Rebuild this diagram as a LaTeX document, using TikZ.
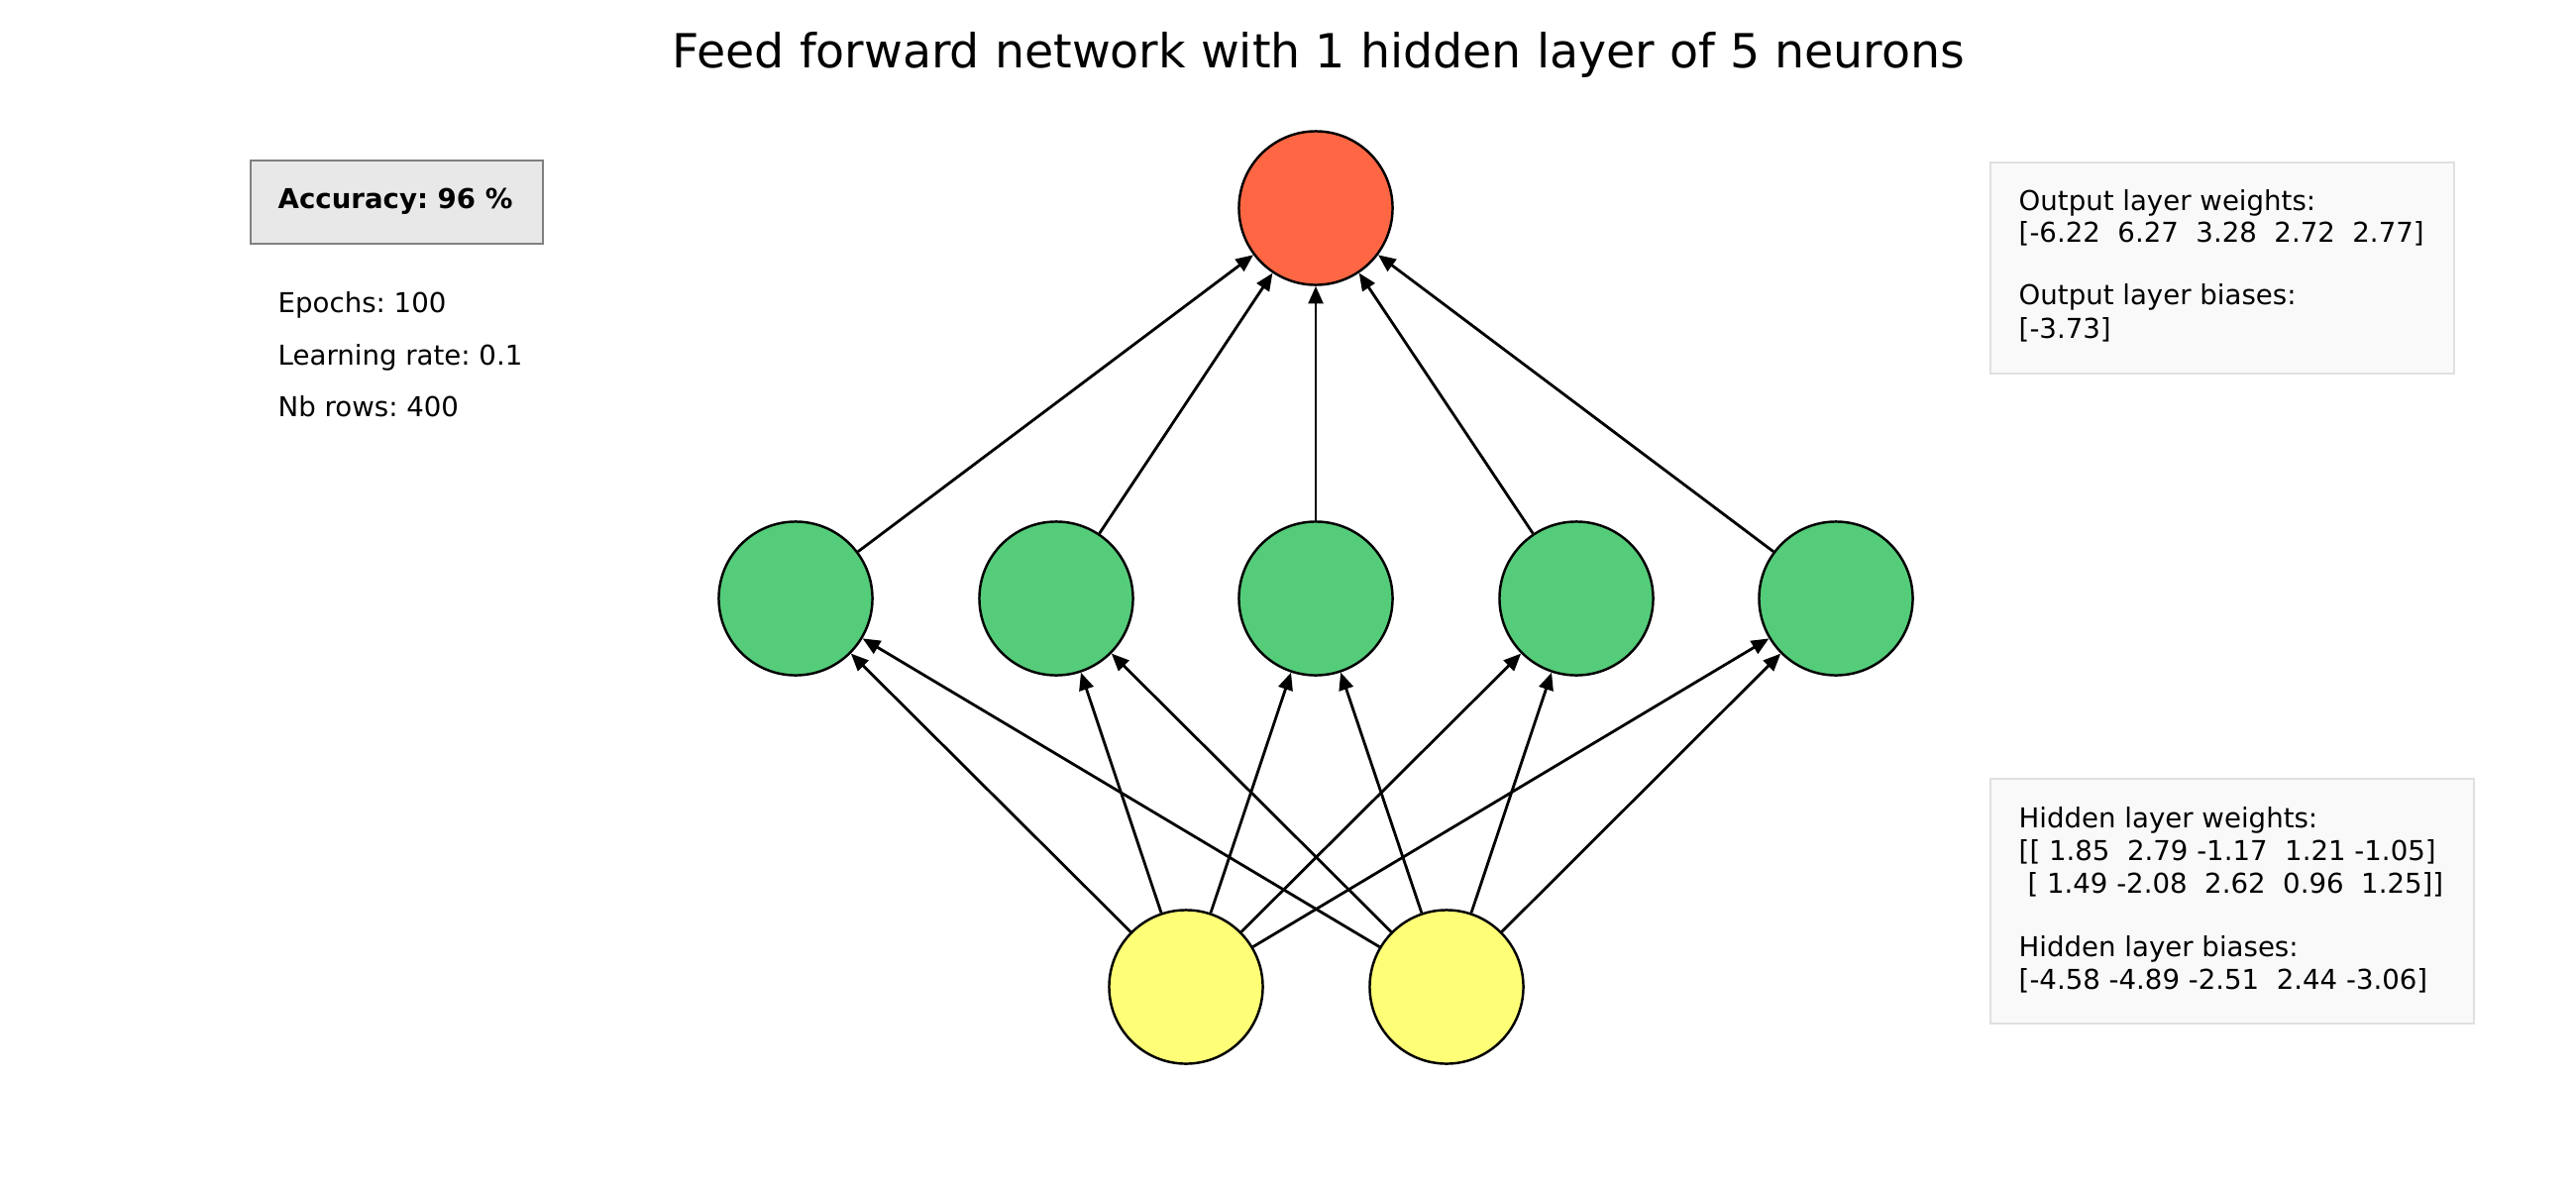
\documentclass[tikz,border=0pt]{standalone}
\usepackage{fontspec}
\setmainfont{DejaVu Sans}
\usetikzlibrary{arrows.meta}
\definecolor{outc}{HTML}{FF6644}
\definecolor{hidc}{HTML}{55CC7A}
\definecolor{inc}{HTML}{FFFF77}
\definecolor{accfill}{HTML}{E8E8E8}
\definecolor{accline}{HTML}{808080}
\definecolor{infofill}{HTML}{F9F9F9}
\definecolor{infoline}{HTML}{E0E0E0}
\frenchspacing
\begin{document}
\begin{tikzpicture}[x=0.01cm,y=-0.01cm,
  every node/.style={font=\fontsize{7.85}{9.4}\selectfont},
  neuron/.style={circle, draw=black, line width=0.7pt, minimum size=1.55cm, inner sep=0pt},
  conn/.style={line width=0.8pt, -{Triangle[length=5pt,width=4.2pt]}},
  accbox/.style={draw=accline, fill=accfill, line width=0.6pt, inner sep=0pt},
  infobox/.style={draw=infoline, fill=infofill, line width=0.6pt, inner sep=0pt},
  txt/.style={anchor=base west, inner sep=0pt}]
\useasboundingbox (0,0) rectangle (2600,1200);

\node[anchor=base west, inner sep=0pt, font=\fontsize{13.5}{16}\selectfont] (title) at (678,68)
  {Feed forward network with 1 hidden layer of 5 neurons};

% neurons
\node[neuron, fill=outc] (o) at (1328,210) {};
\node[neuron, fill=hidc] (h1) at (803,604) {};
\node[neuron, fill=hidc] (h2) at (1066,604) {};
\node[neuron, fill=hidc] (h3) at (1328,604) {};
\node[neuron, fill=hidc] (h4) at (1591,604) {};
\node[neuron, fill=hidc] (h5) at (1853,604) {};
\node[neuron, fill=inc] (i1) at (1197,996) {};
\node[neuron, fill=inc] (i2) at (1460,996) {};

% connections
\foreach \h in {h1,h2,h3,h4,h5} {
  \draw[conn] (i1) -- (\h);
  \draw[conn] (i2) -- (\h);
  \draw[conn] (\h) -- (o);
}

% accuracy box
\node[accbox, anchor=north west, minimum width=2.95cm, minimum height=0.84cm] (acc) at (252,161) {};
\node[txt] (acct) at (280,210) {\textbf{Accuracy: 96 \%}};
\node[txt] (ep) at (280,315) {Epochs: 100};
\node[txt] (lr) at (280,368) {Learning rate: 0.1};
\node[txt] (nb) at (280,420) {Nb rows: 400};

% output box
\node[infobox, anchor=north west, minimum width=4.68cm, minimum height=2.13cm] (obox) at (2008,163) {};
\node[txt] (ow) at (2037,212) {Output layer weights:};
\node[txt] (owv) at (2037,244) {[-6.22\ \ 6.27\ \ 3.28\ \ 2.72\ \ 2.77]};
\node[txt] (ob) at (2037,307) {Output layer biases:};
\node[txt] (obv) at (2037,341) {[-3.73]};

% hidden box
\node[infobox, anchor=north west, minimum width=4.88cm, minimum height=2.47cm] (hbox) at (2008,785) {};
\node[txt] (hw) at (2037,835) {Hidden layer weights:};
\node[txt] (hw1) at (2037,868) {[[ 1.85\ \ 2.79 -1.17\ \ 1.21 -1.05]};
\node[txt] (hw2) at (2037,901) {\ [ 1.49 -2.08\ \ 2.62\ \ 0.96\ \ 1.25]]};
\node[txt] (hb) at (2037,965) {Hidden layer biases:};
\node[txt] (hbv) at (2037,998) {[-4.58 -4.89 -2.51\ \ 2.44 -3.06]};
\end{tikzpicture}
\end{document}
